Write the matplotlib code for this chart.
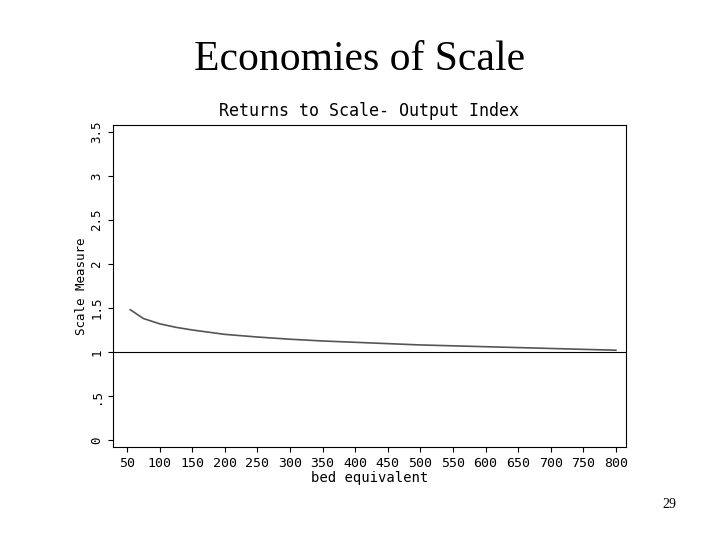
import numpy as np
import matplotlib.pyplot as plt

beds = [55, 75, 100, 125, 150, 200, 250, 300, 350, 400, 450, 500, 550, 600, 650, 700, 750, 800]
scale = [1.48, 1.38, 1.32, 1.28, 1.25, 1.20, 1.17, 1.145, 1.125, 1.11, 1.095, 1.08, 1.07, 1.06, 1.05, 1.04, 1.03, 1.02]
xticks = list(range(50, 801, 50))
yticks = [0, 0.5, 1, 1.5, 2, 2.5, 3, 3.5]
ylabels = ['0', '.5', '1', '1.5', '2', '2.5', '3', '3.5']

fig = plt.figure(figsize=(7.2, 5.4), dpi=100)
ax = fig.add_axes([0.157, 0.172, 0.712, 0.597])
ax.plot(beds, scale, color='#555555', lw=1.2)
ax.axhline(1, color='black', lw=0.8)
ax.set_xlim(28.5, 815)
ax.set_ylim(-0.08, 3.58)
ax.set_xticks(xticks)
ax.set_xticklabels([str(t) for t in xticks], family='DejaVu Sans Mono', fontsize=9.5)
ax.set_yticks(yticks)
ax.set_yticklabels(ylabels, family='DejaVu Sans Mono', fontsize=9, rotation=90, va='center')
ax.set_xlabel('bed equivalent', family='DejaVu Sans Mono', fontsize=10, labelpad=1)
ax.set_ylabel('Scale Measure', family='DejaVu Sans Mono', fontsize=9, labelpad=2)
ax.set_title('Returns to Scale- Output Index', family='DejaVu Sans Mono', fontsize=12, pad=6)
for s in ax.spines.values():
    s.set_linewidth(0.8)

fig.text(0.5, 0.87, 'Economies of Scale', family='Liberation Serif', fontsize=30, ha='center')
fig.text(0.93, 0.06, '29', family='Liberation Serif', fontsize=10, ha='center')
fig.savefig('out.png')
